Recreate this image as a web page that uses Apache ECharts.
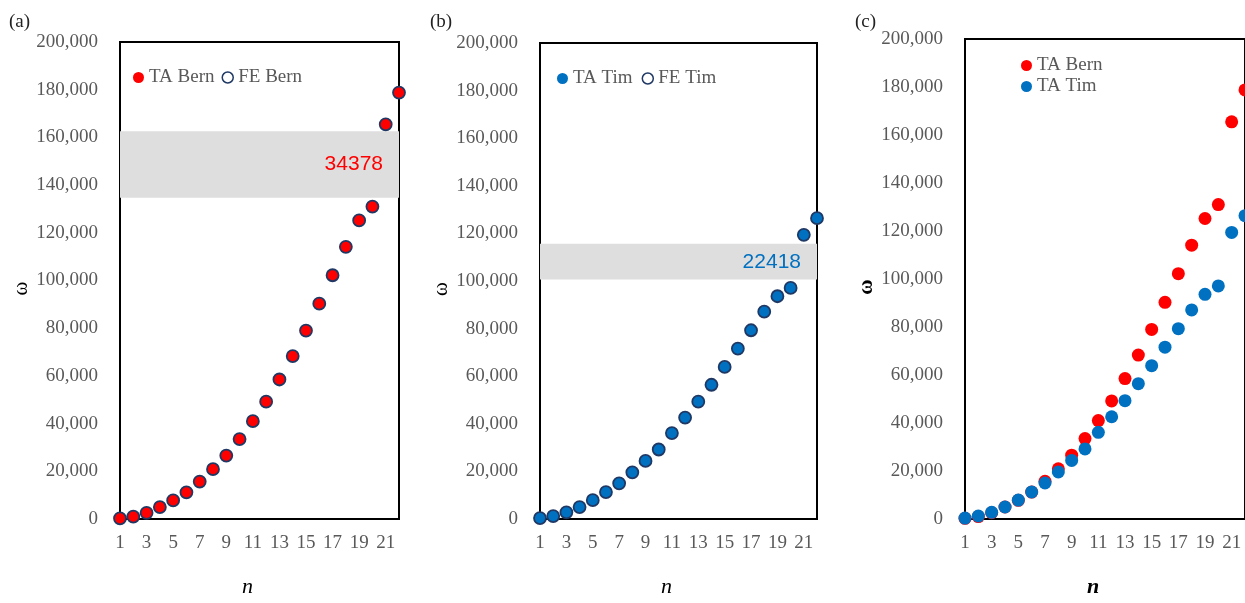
<!DOCTYPE html>
<html>
<head>
<meta charset="utf-8">
<script src="https://cdn.jsdelivr.net/npm/echarts@6/dist/echarts.min.js"></script>
<style>
  html, body { margin: 0; padding: 0; background: #fff; }
  #chart { width: 1245px; height: 603px; }
</style>
</head>
<body>
<div id="chart"></div>
<script>
// n values on the x axis
const nVals = ['1','2','3','4','5','6','7','8','9','10','11','12','13','14','15','16','17','18','19','20','21','22'];
const taBern = [300, 1000, 2600, 5000, 7800, 11200, 15700, 20900, 26600, 33500, 41000, 49200, 58500, 68300, 79000, 90300, 102200, 114100, 125200, 131000, 165500, 178800];
const feBern = [300, 1000, 2600, 5000, 7800, 11200, 15700, 20900, 26600, 33500, 41000, 49200, 58500, 68300, 79000, 90300, 102200, 114100, 125200, 131000, 165500, 178800];
const taTim = [400, 1250, 2800, 5000, 7900, 11300, 15000, 19600, 24400, 29200, 36100, 42600, 49300, 56400, 63900, 71600, 79300, 87100, 93600, 97100, 119400, 126400];
const feTim = [400, 1250, 2800, 5000, 7900, 11300, 15000, 19600, 24400, 29200, 36100, 42600, 49300, 56400, 63900, 71600, 79300, 87100, 93600, 97100, 119400, 126400];
// shaded bands (from, to) and their labels
const bandBern = [134700, 162600];
const bandTim = [100600, 115600];
const bandLabels = ['34378', '22418'];

const RED = '#FF0000';
const BLUE = '#0070C0';
const NAVY = '#1F3864';
const GREY = '#595959';
const SERIF = 'Liberation Serif';

function pts(arr) {
  return arr.map((v, i) => [nVals[i], v]);
}

function xAx(idx, bold) {
  return {
    type: 'category',
    gridIndex: idx,
    data: nVals,
    boundaryGap: false,
    name: 'n',
    nameLocation: 'middle',
    nameGap: 57,
    nameTextStyle: {
      color: '#000',
      fontFamily: SERIF,
      fontSize: 22,
      fontStyle: 'italic',
      fontWeight: bold ? 'bold' : 'normal',
      padding: [0, 24, 0, 0],
    },
    axisLine: { show: false },
    axisTick: { show: false },
    splitLine: { show: false },
    axisLabel: {
      interval: 1,
      margin: 15,
      color: GREY,
      fontFamily: SERIF,
      fontSize: 19,
    },
  };
}

function yAx(idx, gap, bold) {
  return {
    type: 'value',
    gridIndex: idx,
    min: 0,
    max: 200000,
    interval: 20000,
    name: 'ω',
    nameLocation: 'middle',
    nameGap: gap,
    nameTextStyle: {
      color: '#000',
      fontFamily: SERIF,
      fontSize: 21,
      fontWeight: bold ? 'bold' : 'normal',
      padding: [0, 16, 0, 0],
    },
    axisLine: { show: false },
    axisTick: { show: false },
    splitLine: { show: false },
    axisLabel: {
      margin: 22,
      color: GREY,
      fontFamily: SERIF,
      fontSize: 19,
      formatter: (v) => v.toLocaleString('en-US'),
    },
  };
}

function band(range, label, color) {
  return {
    silent: true,
    itemStyle: { color: '#DEDEDE' },
    label: {
      show: true,
      position: 'insideRight',
      distance: 16,
      formatter: label,
      color: color,
      fontFamily: 'Liberation Sans',
      fontSize: 21,
    },
    data: [[{ yAxis: range[0] }, { yAxis: range[1] }]],
  };
}

const legendText = { color: GREY, fontFamily: SERIF, fontSize: 19 };
const titleText = { color: '#222', fontFamily: SERIF, fontSize: 19, fontWeight: 'normal' };

let myChart = echarts.init(document.getElementById('chart'));
myChart.setOption({
  animation: false,
  backgroundColor: '#fff',
  title: [
    { text: '(a)', left: 4, top: 8, textStyle: titleText },
    { text: '(b)', left: 425, top: 8, textStyle: titleText },
    { text: '(c)', left: 850, top: 8, textStyle: titleText },
  ],
  grid: [
    { left: 120, top: 42, width: 279, height: 481, show: true, borderColor: '#000', borderWidth: 2 },
    { left: 540, top: 43, width: 277, height: 479, show: true, borderColor: '#000', borderWidth: 2 },
    { left: 965, top: 39, width: 280, height: 481, show: true, borderColor: '#000', borderWidth: 2 },
  ],
  legend: [
    {
      left: 133, top: 68, padding: 0, itemWidth: 11, itemHeight: 11, itemGap: 7,
      textStyle: legendText,
      data: [
        { name: 'TA Bern', icon: 'circle', itemStyle: { color: RED, borderWidth: 0 } },
        { name: 'FE Bern', icon: 'circle', itemStyle: { color: '#fff', borderColor: NAVY, borderWidth: 1.5 } },
      ],
    },
    {
      left: 557, top: 69, padding: 0, itemWidth: 11, itemHeight: 11, itemGap: 9,
      textStyle: legendText,
      data: [
        { name: 'TA Tim', icon: 'circle', itemStyle: { color: BLUE, borderWidth: 0 } },
        { name: 'FE Tim', icon: 'circle', itemStyle: { color: '#fff', borderColor: NAVY, borderWidth: 1.5 } },
      ],
    },
    {
      left: 1021, top: 56, padding: 0, orient: 'vertical', itemWidth: 11, itemHeight: 11, itemGap: 2,
      textStyle: legendText,
      data: [
        { name: 'TA Bern', icon: 'circle', itemStyle: { color: RED, borderWidth: 0 } },
        { name: 'TA Tim', icon: 'circle', itemStyle: { color: BLUE, borderWidth: 0 } },
      ],
    },
  ],
  xAxis: [xAx(0, false), xAx(1, false), xAx(2, true)],
  yAxis: [yAx(0, 79, false), yAx(1, 77, false), yAx(2, 77, true)],
  series: [
    {
      name: 'TA Bern', type: 'scatter', xAxisIndex: 0, yAxisIndex: 0,
      symbolSize: 12, itemStyle: { color: RED, opacity: 1 },
      markArea: band(bandBern, bandLabels[0], RED),
      data: pts(taBern),
    },
    {
      name: 'FE Bern', type: 'scatter', xAxisIndex: 0, yAxisIndex: 0,
      symbolSize: 12, itemStyle: { color: 'rgba(0,0,0,0)', borderColor: NAVY, borderWidth: 1.8, opacity: 1 },
      data: pts(feBern),
    },
    {
      name: 'TA Tim', type: 'scatter', xAxisIndex: 1, yAxisIndex: 1,
      symbolSize: 12, itemStyle: { color: BLUE, opacity: 1 },
      markArea: band(bandTim, bandLabels[1], BLUE),
      data: pts(taTim),
    },
    {
      name: 'FE Tim', type: 'scatter', xAxisIndex: 1, yAxisIndex: 1,
      symbolSize: 12, itemStyle: { color: 'rgba(0,0,0,0)', borderColor: NAVY, borderWidth: 1.8, opacity: 1 },
      data: pts(feTim),
    },
    {
      name: 'TA Bern', type: 'scatter', xAxisIndex: 2, yAxisIndex: 2,
      symbolSize: 13, itemStyle: { color: RED, opacity: 1 },
      data: pts(taBern),
    },
    {
      name: 'TA Tim', type: 'scatter', xAxisIndex: 2, yAxisIndex: 2,
      symbolSize: 13, itemStyle: { color: BLUE, opacity: 1 },
      data: pts(taTim),
    },
  ],
});
</script>
</body>
</html>
